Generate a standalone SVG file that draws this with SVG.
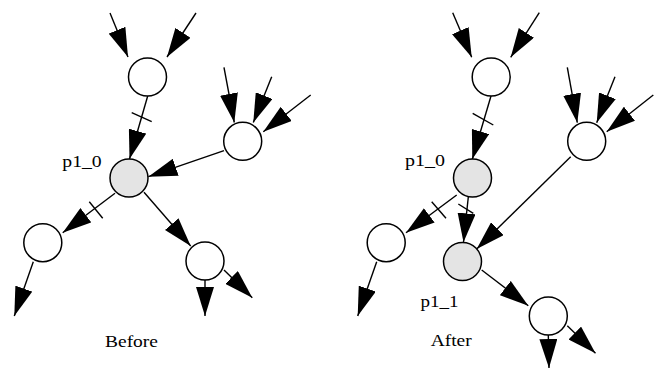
<svg xmlns="http://www.w3.org/2000/svg" width="663" height="370" viewBox="0 0 663 370">
<style>
.n{fill:#ffffff;stroke:#000;stroke-width:1.5}
.g{fill:#e4e4e4;stroke:#000;stroke-width:1.5}
.e{stroke:#000;stroke-width:1.4;fill:none}
.e line{marker-end:url(#ah)}
.t{stroke:#000;stroke-width:1.4}
.lb{font-family:"Liberation Serif","Times New Roman",serif;font-size:17.5px;fill:#000}
</style>
<defs>
<marker id="ah" viewBox="0 0 29 18" refX="29" refY="9" markerWidth="29" markerHeight="18" markerUnits="userSpaceOnUse" orient="auto">
<path d="M0,0 L29,9 L0,18 z" fill="#000"/>
</marker>
</defs>
<rect width="663" height="370" fill="#fff"/>
<g id="connectors" class="e">
<line x1="110" y1="13" x2="128" y2="57"/>
<line x1="196" y1="13" x2="167" y2="57"/>
<line x1="147.7" y1="96" x2="129.5" y2="159"/>
<line x1="224" y1="67.3" x2="234.3" y2="122.5"/>
<line x1="271.7" y1="76.7" x2="253.3" y2="122.5"/>
<line x1="310.7" y1="95" x2="263.3" y2="131.7"/>
<line x1="224" y1="150.7" x2="148.3" y2="176.7"/>
<line x1="115" y1="193.3" x2="62.7" y2="232.7"/>
<line x1="33.3" y1="261.7" x2="14.3" y2="316"/>
<line x1="144" y1="192.3" x2="190.7" y2="246"/>
<line x1="205" y1="280" x2="205" y2="316"/>
<line x1="224" y1="270" x2="252.3" y2="297.7"/>
<line x1="452.7" y1="12.7" x2="471.7" y2="57.3"/>
<line x1="539.3" y1="12.7" x2="510.7" y2="57.3"/>
<line x1="491" y1="96" x2="472.3" y2="159.3"/>
<line x1="567.3" y1="67.3" x2="577.3" y2="122.7"/>
<line x1="615" y1="76.7" x2="596.7" y2="122.7"/>
<line x1="653.3" y1="95" x2="606.7" y2="131.7"/>
<line x1="570.7" y1="156.7" x2="476.7" y2="249"/>
<line x1="456.7" y1="195" x2="406" y2="232.7"/>
<line x1="376.7" y1="261.7" x2="357.7" y2="316"/>
<line x1="468.3" y1="197" x2="463.5" y2="242.3"/>
<line x1="481.7" y1="270" x2="528.3" y2="305.7"/>
<line x1="548.3" y1="335" x2="549" y2="368"/>
<line x1="567.3" y1="325.7" x2="595.5" y2="353.3"/>
</g>
<g id="ticks" class="t">
<line x1="131.7" y1="112.7" x2="151.7" y2="121.7"/>
<line x1="89.3" y1="201.7" x2="102.7" y2="218.3"/>
<line x1="472.7" y1="113.3" x2="493.3" y2="125"/>
<line x1="431.7" y1="201.7" x2="446" y2="218.3"/>
<line x1="458.3" y1="204" x2="473.3" y2="213.3"/>
</g>
<g id="before-A"><circle class="n" cx="147.5" cy="77" r="19"/></g>
<g id="before-p1_0"><circle class="g" cx="129" cy="178" r="19"/><text class="lb" x="62.3" y="166.7" textLength="39.4" lengthAdjust="spacingAndGlyphs">p1_0</text></g>
<g id="before-B"><circle class="n" cx="242.7" cy="141.3" r="19"/></g>
<g id="before-C"><circle class="n" cx="42.8" cy="242.7" r="19"/></g>
<g id="before-D"><circle class="n" cx="205" cy="261" r="19"/></g>
<g id="after-A"><circle class="n" cx="491.2" cy="77" r="19"/></g>
<g id="after-p1_0"><circle class="g" cx="472.5" cy="178" r="19"/><text class="lb" x="405" y="165.7" textLength="40" lengthAdjust="spacingAndGlyphs">p1_0</text></g>
<g id="after-B"><circle class="n" cx="586.7" cy="141.3" r="19"/></g>
<g id="after-C"><circle class="n" cx="386.2" cy="242.7" r="19"/></g>
<g id="after-p1_1"><circle class="g" cx="462.5" cy="261.5" r="19"/><text class="lb" x="420.5" y="306.7" textLength="38" lengthAdjust="spacingAndGlyphs">p1_1</text></g>
<g id="after-D"><circle class="n" cx="548.3" cy="316" r="19"/></g>
<g id="captions">
<text class="lb" x="105" y="346.7" textLength="53" lengthAdjust="spacingAndGlyphs">Before</text>
<text class="lb" x="430.7" y="345.5" textLength="41" lengthAdjust="spacingAndGlyphs">After</text>
</g>
</svg>
